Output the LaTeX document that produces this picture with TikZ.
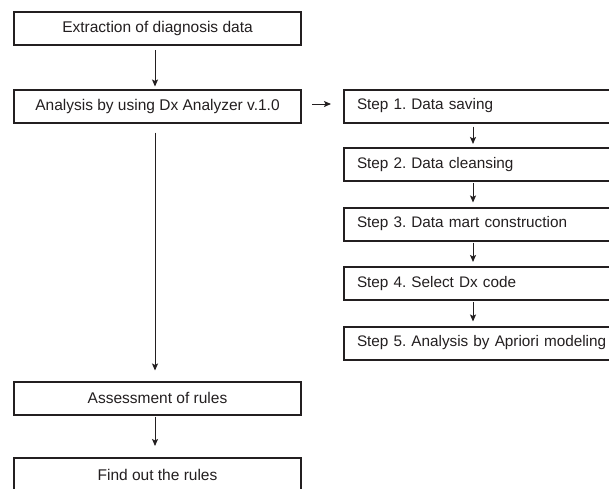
\documentclass[tikz,border=0pt]{standalone}
\usepackage{fontspec}
\setmainfont{Liberation Sans}
\usetikzlibrary{arrows.meta}
\definecolor{ink}{HTML}{231F20}
\frenchspacing
\tikzset{
  mainbox/.style={draw=ink, line width=2pt, minimum width=287pt, minimum height=33pt,
    inner sep=0pt, text=ink, font=\fontsize{15.5}{18}\selectfont},
  stepbox/.style={draw=ink, line width=2pt, minimum height=33pt, anchor=west,
    inner xsep=13pt, inner ysep=0pt, text width=270pt, align=left, text=ink,
    font=\fontsize{15.3}{18}\selectfont},
  arr/.style={draw=ink, line width=1pt, -{Stealth[length=7pt,width=6pt,inset=1.5pt]}}
}
\begin{document}
\begin{tikzpicture}[x=1pt,y=-1pt]
\useasboundingbox (0,0) rectangle (609,488);
\fill[white] (0,0) rectangle (609,488);
\begin{scope}
\clip (0,0) rectangle (609,488);
\node[mainbox] (b1) at (157.5,28.5) {Extraction of diagnosis data};
\node[mainbox] (b2) at (157.5,106) {Analysis by using Dx Analyzer v.1.0};
\node[mainbox] (b3) at (157.5,398) {Assessment of rules};
\node[mainbox] (b4) at (157.5,474.5) {Find out the rules};

\node[stepbox] (s1) at (343,106) {Step 1. Data saving};
\node[stepbox] (s2) at (343,164.5) {Step 2. Data cleansing};
\node[stepbox] (s3) at (343,224) {Step 3. Data mart construction};
\node[stepbox] (s4) at (343,283.5) {Step 4. Select Dx code};
\node[stepbox] (s5) at (343,343) {Step 5. Analysis by Apriori modeling};

\draw[arr, shorten <=4pt, shorten >=2pt] ([xshift=-2.5pt]b1.south) -- ([xshift=-2.5pt]b2.north);
\draw[arr, shorten <=9pt, shorten >=10pt] ([xshift=-2.5pt]b2.south) -- ([xshift=-2.5pt]b3.north);
\draw[arr, shorten <=1pt, shorten >=11pt] ([xshift=-2.5pt]b3.south) -- ([xshift=-2.5pt]b4.north);

\draw[arr, shorten <=10pt, shorten >=12pt] ([yshift=2pt]b2.east) -- ([yshift=2pt]s1.west);

\coordinate (sx) at (473,0);
\draw[arr, shorten <=3pt, shorten >=3pt] (s1.south -| sx) -- (s2.north -| sx);
\draw[arr, shorten <=1pt, shorten >=4pt] (s2.south -| sx) -- (s3.north -| sx);
\draw[arr, shorten <=1pt, shorten >=4pt] (s3.south -| sx) -- (s4.north -| sx);
\draw[arr, shorten <=1pt, shorten >=4pt] (s4.south -| sx) -- (s5.north -| sx);
\end{scope}
\end{tikzpicture}
\end{document}
